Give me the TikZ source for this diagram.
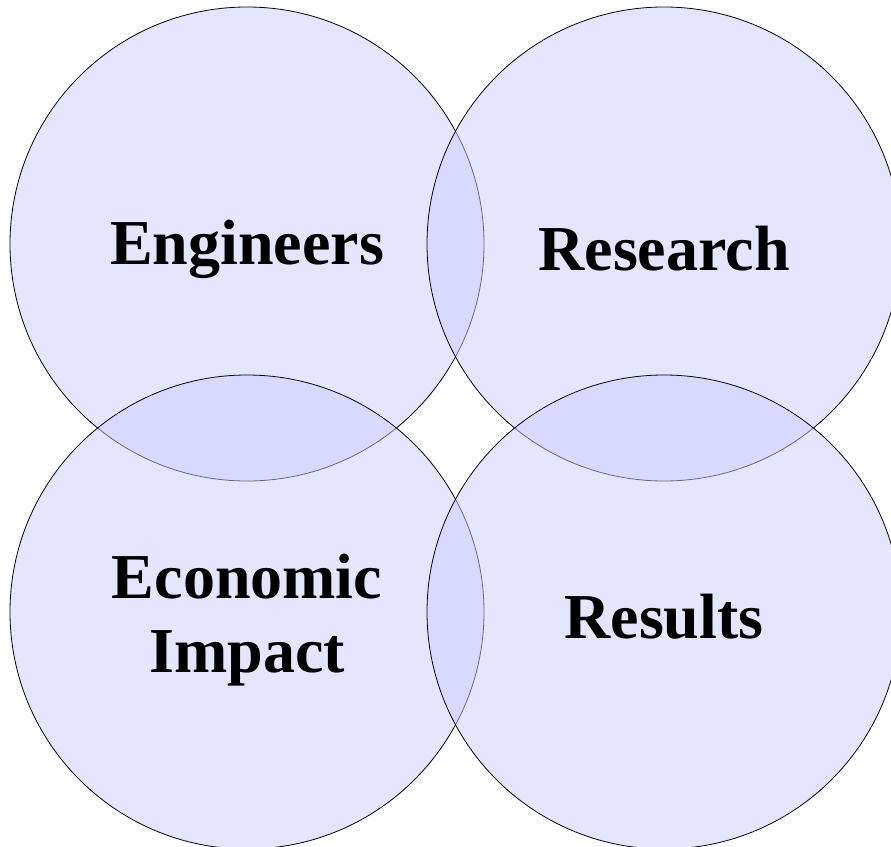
\documentclass[tikz,border=0pt]{standalone}
\usepackage{fontspec}
\setmainfont{Liberation Serif}
\definecolor{lavfill}{RGB}{204,204,255}
\tikzset{circ/.style = {draw = black, line width = 0.8pt, fill = lavfill, fill opacity = 0.5}}
\tikzset{lbl/.style = {font = \bfseries\fontsize{64}{74}\selectfont, align = center, text = black}}

\begin{document}
\begin{tikzpicture}[x=1pt, y=-1pt]
    \useasboundingbox (0,0) rectangle (891,846);
    \coordinate (E) at (247,244);
    \coordinate (R) at (664,244);
    \coordinate (I) at (247,612);
    \coordinate (S) at (664,612);
    \draw [circ] (E) circle (237pt);
    \draw [circ] (R) circle (237pt);
    \draw [circ] (I) circle (237pt);
    \draw [circ] (S) circle (237pt);
    \node (eng) at (247,249) [lbl] {Engineers};
    \node (res) at (664,249) [lbl] {Research};
    \node (eco) at (247,620) [lbl] {Economic\\Impact};
    \node (rsl) at (664,617) [lbl] {Results};
\end{tikzpicture}
\end{document}
